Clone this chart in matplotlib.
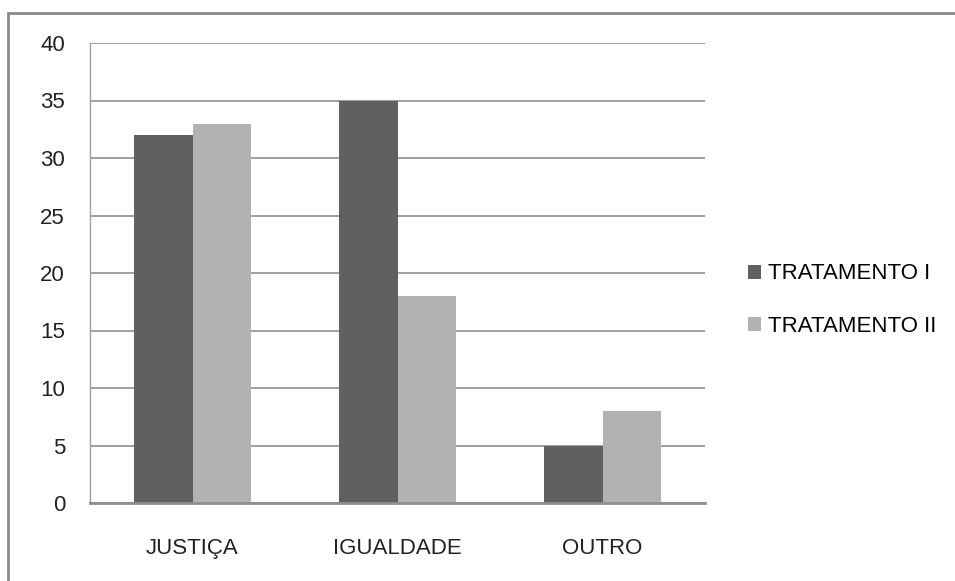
import matplotlib
matplotlib.use("Agg")
import matplotlib.pyplot as plt
import numpy as np
from matplotlib.patches import Rectangle

categories = ["JUSTIÇA", "IGUALDADE", "OUTRO"]
series_names = ["TRATAMENTO I", "TRATAMENTO II"]
tratamento_1 = [32, 35, 5]
tratamento_2 = [33, 18, 8]
y_ticks = [0, 5, 10, 15, 20, 25, 30, 35, 40]

plt.rcParams['font.family'] = ['Liberation Sans', 'DejaVu Sans']

fig = plt.figure(figsize=(9.55, 5.81), dpi=100)
fig.patch.set_facecolor('white')
ax = fig.add_axes([90/955, 1-503/581, (705-90)/955, (503-43)/581])

x = np.arange(len(categories))
w = 0.285
ax.bar(x - w/2, tratamento_1, width=w, color='#606060', label=series_names[0], zorder=3)
ax.bar(x + w/2, tratamento_2, width=w, color='#b2b2b2', label=series_names[1], zorder=3)

ax.set_xlim(-0.5, 2.5)
ax.set_ylim(0, 40)
ax.set_yticks(y_ticks)
ax.set_xticks(x)
ax.set_xticklabels(categories)
ax.yaxis.grid(True, color='#8f8f8f', linewidth=1.2, zorder=0)
ax.set_axisbelow(True)
for s in ['top', 'right']:
    ax.spines[s].set_visible(False)
ax.spines['left'].set_color('#a0a0a0')
ax.spines['left'].set_linewidth(1.0)
ax.spines['bottom'].set_color('#8f8f8f')
ax.spines['bottom'].set_linewidth(2.0)
ax.spines['bottom'].set_zorder(4)
ax.tick_params(axis='both', length=0, labelsize=16, colors='#222222')
ax.tick_params(axis='y', pad=18)
ax.tick_params(axis='x', pad=25)

leg = ax.legend(loc='center left', frameon=False,
                fontsize=16, handlelength=0.6, handleheight=0.6, handletextpad=0.3,
                labelspacing=1.4, borderpad=0, borderaxespad=0)
leg.set_bbox_to_anchor((748/955, 1-300/581), transform=fig.transFigure)

fig.add_artist(Rectangle((8/955, -0.1), 1.2, 1.1 - 13/581, transform=fig.transFigure,
                         fill=False, edgecolor='#8a8a8a', linewidth=2.0))

fig.savefig("out.png", dpi=100, facecolor='white')
